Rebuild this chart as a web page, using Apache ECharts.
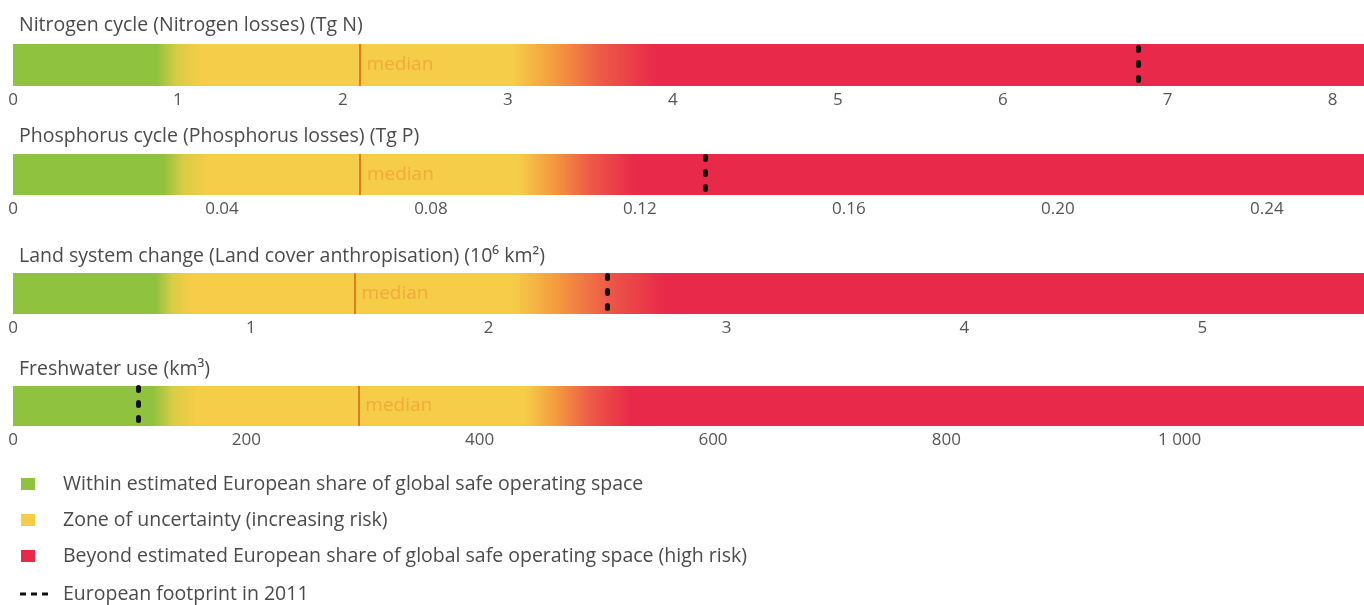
<!DOCTYPE html>
<html><head><meta charset="utf-8">
<script src="https://cdn.jsdelivr.net/npm/echarts@6/dist/echarts.min.js"></script>
<style>html,body{margin:0;padding:0;background:#fff}#c{width:1364px;height:605px}</style>
</head><body><div id="c"></div>
<script>
// ---- data ----
const panelTitles = [
  'Nitrogen cycle (Nitrogen losses) (Tg N)',
  'Phosphorus cycle (Phosphorus losses) (Tg P)',
  'Land system change (Land cover anthropisation) (10\u2076 km\u00B2)',
  'Freshwater use (km\u00B3)'
];
const axisMax          = [8.19, 0.2586, 5.68, 1158];
const tickInterval     = [1, 0.04, 1, 200];
const safeEnd          = [0.87, 0.0288, 0.60, 120];   // end of green zone
const uncertaintyStart = [1.14, 0.0371, 0.75, 157];   // full yellow
const uncertaintyEnd   = [3.03, 0.0967, 2.10, 439];   // end of yellow
const highRiskStart    = [3.90, 0.119, 2.74, 530];    // full red
const medianValues     = [2.10, 0.0664, 1.436, 296];
const footprint2011    = [6.82, 0.1325, 2.50, 107];
const legendLabels = [
  'Within estimated European share of global safe operating space',
  'Zone of uncertainty (increasing risk)',
  'Beyond estimated European share of global safe operating space (high risk)',
  'European footprint in 2011'
];

// ---- style ----
const FONT = 'Open Sans';
const GREEN = '#8fc23f', YELLOW = '#f5cd49', RED = '#e8294a';
const gridTops = [44, 154, 273, 386];
const gridHeights = [42, 41, 41, 40];
const titleTops = [10, 121, 241, 354];

function fmt(i, v) {
  if (v === 0) return '0';
  if (i === 1) return v.toFixed(2);
  if (i === 3) return String(Math.round(v)).replace(/\B(?=(\d{3})+(?!\d))/g, ' ');
  return String(Math.round(v * 100) / 100);
}

function zoneGradient(i) {
  const m = axisMax[i];
  const g0 = safeEnd[i], g1 = uncertaintyStart[i], y1 = uncertaintyEnd[i], r0 = highRiskStart[i];
  return new echarts.graphic.LinearGradient(0, 0, 1, 0, [
    {offset: 0, color: GREEN},
    {offset: g0 / m, color: GREEN},
    {offset: (g0 + 0.45 * (g1 - g0)) / m, color: '#d8cc46'},
    {offset: g1 / m, color: YELLOW},
    {offset: y1 / m, color: YELLOW},
    {offset: (y1 + 0.3 * (r0 - y1)) / m, color: '#f39a3e'},
    {offset: (y1 + 0.62 * (r0 - y1)) / m, color: '#ec5a46'},
    {offset: r0 / m, color: RED},
    {offset: 1, color: RED}
  ]);
}

const grids = [], xAxes = [], yAxes = [], series = [], titles = [];
for (let i = 0; i < 4; i++) {
  grids.push({left: 13, right: 0, top: gridTops[i], height: gridHeights[i], containLabel: false});
  titles.push({text: panelTitles[i], left: 14, top: titleTops[i],
    textStyle: {fontFamily: FONT, fontSize: 19.5, fontWeight: 'normal', color: '#4a4a4a'}});
  xAxes.push({
    type: 'value', gridIndex: i, min: 0, max: axisMax[i], interval: tickInterval[i],
    axisLine: {show: false}, axisTick: {show: false}, splitLine: {show: false},
    axisLabel: {show: true, showMaxLabel: false, margin: 6, color: '#555', fontFamily: FONT, fontSize: 17,
      formatter: v => fmt(i, v)}
  });
  yAxes.push({type: 'category', gridIndex: i, data: ['v'], show: false});
  series.push({
    type: 'bar', name: panelTitles[i], xAxisIndex: i, yAxisIndex: i,
    barWidth: '100%', barCategoryGap: 0, silent: true,
    itemStyle: {color: zoneGradient(i)}, data: [axisMax[i]],
    markLine: {
      silent: true, symbol: 'none', animation: false, precision: 5,
      label: {show: false},
      data: [
        {xAxis: medianValues[i], lineStyle: {color: '#e07b22', width: 2, type: 'solid'}},
        {xAxis: footprint2011[i], lineStyle: {color: '#111', width: 5, type: [3, 12], dashOffset: 9.5, cap: 'round'}}
      ]
    }
  });
  series.push({
    type: 'scatter', xAxisIndex: i, yAxisIndex: i, symbolSize: 0, silent: true,
    data: [[medianValues[i], 'v']],
    label: {show: true, position: 'right', distance: 7, formatter: 'median',
      color: '#f2a13a', fontFamily: FONT, fontSize: 19}
  });
}

// legend drawn as graphic
const legendY = [484, 520, 556, 594];
const legendColors = [GREEN, YELLOW, RED];
const graphic = [];
for (let k = 0; k < 4; k++) {
  if (k < 3) {
    graphic.push({type: 'rect', x: 21, y: legendY[k] - 6, shape: {width: 14, height: 12}, style: {fill: legendColors[k]}});
  } else {
    graphic.push({type: 'line', shape: {x1: 20, y1: legendY[k], x2: 48, y2: legendY[k]},
      style: {stroke: '#111', lineWidth: 3, lineDash: [6, 5]}});
  }
  graphic.push({type: 'text', x: 63, y: legendY[k],
    style: {text: legendLabels[k], fill: '#4a4a4a', font: '19.5px "Open Sans"', verticalAlign: 'middle'}});
}

const chart = echarts.init(document.getElementById('c'));
chart.setOption({
  animation: false,
  backgroundColor: '#fff',
  title: titles,
  grid: grids, xAxis: xAxes, yAxis: yAxes,
  series: series,
  graphic: graphic
});
</script></body></html>
